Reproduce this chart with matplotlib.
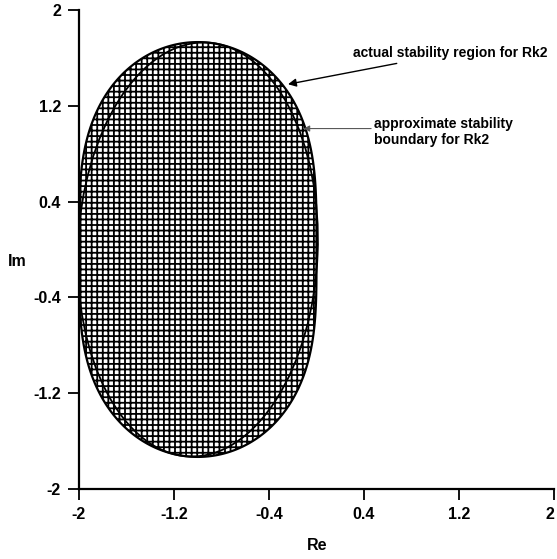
import matplotlib
matplotlib.use('Agg')
import matplotlib.pyplot as plt
import numpy as np
from matplotlib.patches import Ellipse


# Rk2 amplification factor R(z) = 1 + z + z^2/2, stable where |R(z)| <= 1
RK2_COEFFS = [1.0, 1.0, 0.5]
STABLE_LEVEL = 1.0

# approximate stability boundary: ellipse (center, semi-axes along Re and Im, tilt in deg)
APPROX_CENTER = (-1.0, 0.0)
APPROX_SEMI_AXES = (1.01, 1.73)
APPROX_TILT = -2.5

TICKS = [-2, -1.2, -0.4, 0.4, 1.2, 2]
TICK_LABELS = ['-2', '-1.2', '-0.4', '0.4', '1.2', '2']

plt.rcParams['font.family'] = ['Liberation Sans', 'DejaVu Sans']
plt.rcParams['font.weight'] = 'bold'
plt.rcParams['hatch.color'] = 'black'
plt.rcParams['hatch.linewidth'] = 1.3

fig = plt.figure(figsize=(5.57, 5.59), dpi=100)
ax = fig.add_axes([79/557, 70/559, 475/557, 479/559])

re = np.linspace(-2.2, 0.3, 801)
im = np.linspace(-2.0, 2.0, 801)
X, Y = np.meshgrid(re, im)
Z = X + 1j*Y
R = np.abs(np.polyval(RK2_COEFFS[::-1], Z))

ax.contourf(X, Y, R, levels=[0, STABLE_LEVEL], colors='none', hatches=['+++'])
ax.contour(X, Y, R, levels=[STABLE_LEVEL], colors='black', linewidths=1.6)

ax.add_patch(Ellipse(APPROX_CENTER, 2*APPROX_SEMI_AXES[0], 2*APPROX_SEMI_AXES[1],
                     angle=APPROX_TILT, fill=False, edgecolor='black', linewidth=1.3))

ax.set_xlim(-2, 2)
ax.set_ylim(-2, 2)
ax.set_xticks(TICKS)
ax.set_xticklabels(TICK_LABELS)
ax.set_yticks(TICKS)
ax.set_yticklabels(TICK_LABELS)
ax.tick_params(direction='out', length=8, width=1.3, labelsize=11.5, pad=5)
ax.get_xticklabels()[-1].set_horizontalalignment('right')
for side in ['top', 'right']:
    ax.spines[side].set_visible(False)
for side in ['left', 'bottom']:
    ax.spines[side].set_linewidth(1.6)

ax.text(0.501, -0.117, 'Re', transform=ax.transAxes, ha='center', va='center',
        fontsize=11.5, fontweight='bold')
ax.text(-0.13, 0.474, 'Im', transform=ax.transAxes, ha='center', va='center',
        fontsize=11.5, fontweight='bold')

ax.annotate('actual stability region for Rk2', xy=(-0.24, 1.38), xytext=(0.31, 1.64),
            fontsize=10, fontweight='bold', va='center', ha='left',
            arrowprops=dict(arrowstyle='-|>', color='black', lw=1.0,
                            mutation_scale=12, shrinkA=2, shrinkB=0))

ax.annotate('', xy=(-0.11, 1.01), xytext=(0.46, 1.01),
            arrowprops=dict(arrowstyle='-|>', color='0.35', lw=0.8,
                            mutation_scale=9, shrinkA=0, shrinkB=0))
ax.text(0.48, 1.11, 'approximate stability\nboundary for Rk2', fontsize=10,
        fontweight='bold', va='top', ha='left', linespacing=1.25)

fig.savefig('out.png', dpi=100)
